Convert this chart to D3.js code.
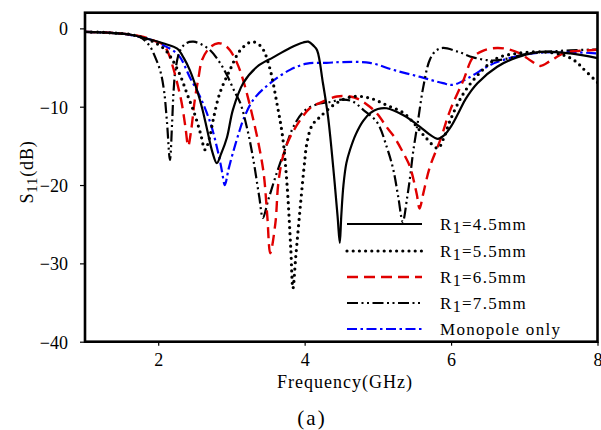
<!DOCTYPE html>
<html>
<head>
<meta charset="utf-8">
<script src="https://cdn.jsdelivr.net/npm/d3@7"></script>
<style>
  body { margin: 0; background: #fff; }
  text { font-family: "Liberation Serif", "Times New Roman", serif; }
</style>
</head>
<body>
<svg id="chart" width="601" height="430"></svg>
<script>
// ---- data ----
const xTicks = [2, 4, 6, 8];
const yTicks = [0, -10, -20, -30, -40];

const f45 = [1.0,1.2,1.4,1.6,1.8,2.0,2.1,2.26,2.35,2.43,2.53,2.6,2.67,2.74,2.8,2.86,2.94,3.02,3.16,3.35,3.57,3.8,3.98,4.05,4.12,4.17,4.25,4.32,4.39,4.45,4.48,4.5,4.53,4.57,4.62,4.7,4.8,4.9,5.0,5.12,5.35,5.58,5.7,5.82,5.9,6.0,6.1,6.2,6.36,6.63,6.9,7.22,7.63,8.0];
const s45 = [-0.45,-0.5,-0.6,-0.75,-1.2,-1.7,-2.0,-2.6,-3.8,-5.3,-7.9,-10.2,-13,-15.8,-17.2,-16,-13.9,-10.4,-7,-4.9,-3.7,-2.5,-1.8,-1.7,-2.2,-2.8,-7,-11.3,-17.7,-24,-27.4,-24,-20,-17.2,-15.5,-13.5,-11.8,-10.8,-10.3,-10.2,-11.1,-12.6,-13.5,-14.1,-13.7,-12.5,-10.8,-9.0,-7,-4.9,-3.7,-3.0,-3.2,-3.8];

const f55 = [1.0,1.2,1.4,1.6,1.8,1.95,2.08,2.18,2.3,2.4,2.5,2.58,2.64,2.7,2.75,2.84,2.98,3.12,3.28,3.38,3.44,3.53,3.62,3.7,3.76,3.81,3.84,3.88,3.94,4.0,4.03,4.1,4.21,4.44,4.66,4.89,5.12,5.35,5.5,5.65,5.82,5.9,5.99,6.17,6.4,6.63,6.9,7.22,7.53,7.7,7.8,8.0];
const s55 = [-0.45,-0.5,-0.6,-0.75,-1.2,-1.8,-2.6,-3.8,-6,-8.5,-11,-13.5,-15.5,-14,-11.7,-8.3,-5.3,-2.8,-1.7,-2.1,-2.8,-5.3,-9.5,-13.9,-20,-28,-33.2,-29,-22.8,-17,-14.7,-12.4,-11.3,-9.5,-8.7,-8.9,-9.8,-10.8,-12.2,-13.9,-15.3,-14,-11.7,-8.3,-5.6,-3.8,-3.2,-3.0,-3.4,-4.2,-5.1,-6.9];

const f65 = [1.0,1.2,1.4,1.6,1.8,1.95,2.07,2.14,2.2,2.26,2.32,2.37,2.41,2.45,2.5,2.55,2.6,2.71,2.82,2.9,2.98,3.08,3.16,3.23,3.3,3.37,3.44,3.49,3.53,3.6,3.64,3.7,3.78,3.94,4.07,4.21,4.44,4.62,4.75,4.89,5.0,5.12,5.22,5.3,5.37,5.44,5.53,5.57,5.62,5.71,5.85,5.99,6.17,6.3,6.45,6.63,6.8,6.94,7.1,7.22,7.35,7.53,7.7,7.9,8.0];
const s65 = [-0.45,-0.5,-0.6,-0.75,-1.1,-1.6,-2.1,-3.2,-4.9,-7,-9.5,-12.5,-15,-13,-9.1,-6.3,-4,-2.4,-1.9,-2.1,-2.8,-4.5,-6.6,-9,-11.7,-14.7,-18.5,-24,-28.7,-24.9,-19.8,-16.5,-14.3,-11.7,-10.2,-9.5,-8.7,-8.7,-9.1,-10,-11,-12.6,-13.8,-15.1,-16.3,-17.7,-21.1,-23,-21.1,-17.7,-14.3,-10.4,-6.6,-3.7,-2.8,-2.5,-2.7,-3.2,-4.2,-4.8,-4.2,-3.2,-2.9,-2.8,-2.7];

const f75 = [1.0,1.2,1.4,1.6,1.75,1.88,1.96,2.03,2.08,2.12,2.16,2.19,2.21,2.24,2.3,2.38,2.48,2.6,2.71,2.83,2.94,3.05,3.12,3.22,3.3,3.38,3.43,3.5,3.6,3.73,3.85,4.0,4.2,4.35,4.5,4.65,4.8,4.99,5.12,5.21,5.28,5.34,5.4,5.44,5.48,5.55,5.62,5.71,5.8,5.89,6.1,6.3,6.56,6.8,7.0,7.3,7.63,8.0];
const s75 = [-0.45,-0.5,-0.6,-0.8,-1.1,-2.2,-3.7,-5.5,-8,-12,-16.8,-12,-8,-5,-2.8,-1.9,-1.7,-2.1,-2.8,-4.2,-6,-8.2,-9.5,-13,-16.8,-21.5,-24.2,-22,-19,-15.5,-12.5,-10.5,-9.6,-9.4,-9.1,-9.3,-10.4,-12,-15.1,-18,-21.6,-24.7,-21.6,-19,-15.9,-11.7,-7.5,-4,-2.8,-2.5,-3,-3.7,-4.1,-3.8,-3.3,-3.0,-2.8,-2.7];

const fMono = [1.0,1.2,1.4,1.6,1.8,1.98,2.1,2.2,2.3,2.43,2.57,2.71,2.82,2.87,2.91,2.96,3.02,3.1,3.16,3.3,3.53,3.8,4.03,4.3,4.52,4.89,5.21,5.58,5.89,6.03,6.26,6.49,6.63,6.98,7.45,8.0];
const sMono = [-0.45,-0.5,-0.6,-0.8,-1.2,-1.7,-2.3,-2.8,-3.7,-6.2,-8.7,-12,-15.9,-18.2,-20,-18,-15.9,-13.4,-11.7,-9.1,-7,-5.3,-4.5,-4.4,-4.3,-4.4,-5.3,-6.2,-7,-7.2,-6.2,-4.9,-4.3,-3.4,-3.0,-3.2];

const seriesNames = ["4.5", "5.5", "6.5", "7.5", "Monopole only"];

// ---- layout ----
const svg = d3.select("#chart");
const L = 85, R = 597.5, T = 12.7, B = 341.7;
const x = d3.scaleLinear().domain([1, 8]).range([L, R]);
const y = d3.scaleLinear().domain([-40, 2]).range([B, T]);

const styles = [
  { color: "#000", width: 2.2, dash: null, cap: "butt" },
  { color: "#000", width: 3.2, dash: "0 6.2", cap: "round" },
  { color: "#e00000", width: 2.4, dash: "11 6", cap: "butt" },
  { color: "#000", width: 2.2, dash: "11 3.5 2 3.5 2 3.5", cap: "butt" },
  { color: "#0000ff", width: 2.2, dash: "10 3.5 2.5 3.5", cap: "butt" }
];
const series = [
  { f: f45, s: s45 }, { f: f55, s: s55 }, { f: f65, s: s65 }, { f: f75, s: s75 }, { f: fMono, s: sMono }
];

svg.append("clipPath").attr("id", "clip")
  .append("rect").attr("x", L).attr("y", T).attr("width", R - L).attr("height", B - T);

const line = d3.line().x(d => x(d[0])).y(d => y(d[1])).curve(d3.curveCatmullRom.alpha(0.5));
const g = svg.append("g").attr("clip-path", "url(#clip)");
const drawOrder = [4, 3, 2, 1, 0];
drawOrder.forEach(i => {
  const d = series[i].f.map((fv, k) => [fv, series[i].s[k]]);
  const st = styles[i];
  g.append("path").datum(d).attr("d", line)
    .attr("fill", "none").attr("stroke", st.color).attr("stroke-width", st.width)
    .attr("stroke-dasharray", st.dash).attr("stroke-linecap", st.cap)
    .attr("stroke-linejoin", "round");
});

// axes
const xAxis = d3.axisBottom(x).tickValues(xTicks).tickSize(4).tickPadding(8).tickFormat(d3.format("d"));
const yAxis = d3.axisLeft(y).tickValues(yTicks).tickSize(5).tickPadding(12).tickFormat(d3.format("d"));
const gx = svg.append("g").attr("transform", `translate(0,${B})`).call(xAxis);
const gy = svg.append("g").attr("transform", `translate(${L},0)`).call(yAxis);
[gx, gy].forEach(a => {
  a.select(".domain").remove();
  a.selectAll(".tick line").attr("stroke", "#000").attr("stroke-width", 1.2);
  a.selectAll(".tick text").attr("font-family", "Liberation Serif").attr("font-size", 18).attr("fill", "#000");
});
gy.selectAll(".tick text").attr("dy", "0.35em");

// frame
svg.append("rect").attr("x", L).attr("y", T).attr("width", R - L).attr("height", B - T)
  .attr("fill", "none").attr("stroke", "#000").attr("stroke-width", 2.6);

// legend
const legX1 = 347, legX2 = 422, legTx = 440;
const legY = [224, 251, 277, 303, 329];
seriesNames.forEach((name, i) => {
  const st = styles[i];
  svg.append("line").attr("x1", legX1).attr("x2", legX2).attr("y1", legY[i]).attr("y2", legY[i])
    .attr("stroke", st.color).attr("stroke-width", st.width)
    .attr("stroke-dasharray", st.dash).attr("stroke-linecap", st.cap);
  const t = svg.append("text").attr("x", legTx).attr("y", legY[i] + 6)
    .attr("font-size", 17).attr("letter-spacing", 1.3).attr("fill", "#000");
  if (i < 4) {
    t.append("tspan").text("R");
    t.append("tspan").attr("dy", 3).attr("font-size", 16).text("1");
    t.append("tspan").attr("dy", -3).text("=" + name + "mm");
  } else {
    t.text(name);
  }
});

// axis labels
svg.append("text").attr("x", 345).attr("y", 388).attr("text-anchor", "middle")
  .attr("font-size", 18).attr("letter-spacing", 1).attr("fill", "#000").text("Frequency(GHz)");

const yl = svg.append("text").attr("transform", "translate(33,172) rotate(-90)")
  .attr("text-anchor", "middle").attr("font-size", 18).attr("letter-spacing", 0.8).attr("fill", "#000");
yl.append("tspan").text("S");
yl.append("tspan").attr("dy", 4).attr("font-size", 15).text("11");
yl.append("tspan").attr("dy", -4).text("(dB)");

svg.append("text").attr("x", 312).attr("y", 425).attr("text-anchor", "middle")
  .attr("font-size", 21).attr("letter-spacing", 2).attr("fill", "#000").text("(a)");
</script>
</body>
</html>
